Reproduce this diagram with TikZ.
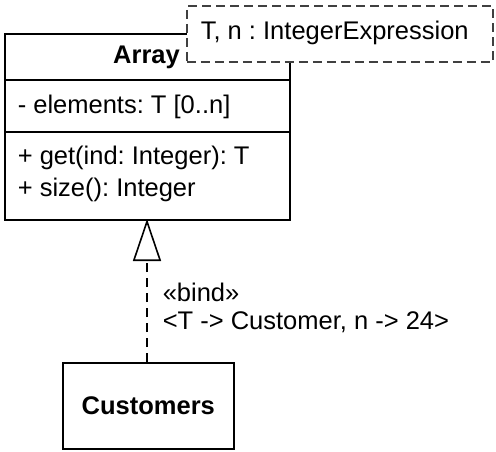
\documentclass[tikz,border=0pt]{standalone}
\usepackage{fontspec}
\setmainfont{Liberation Sans}
\usetikzlibrary{arrows.meta}
\begin{document}
\frenchspacing
\begin{tikzpicture}[x=1pt,y=-1pt,line width=1.6pt,
  every node/.style={font=\fontsize{25.5}{30}\selectfont, inner sep=0pt},
  classbox/.style={draw, anchor=north west},
  tplbox/.style={draw=black!75, dashed, dash pattern=on 9pt off 5pt, fill=white, anchor=north west},
  txt/.style={anchor=west},
  realize/.style={dashed, dash pattern=on 9pt off 6pt, -{Triangle[open, width=28pt, length=42pt]}}]
\useasboundingbox (0,0) rectangle (496,452);
% Array class
\node[classbox, minimum width=285pt, minimum height=186pt] (arr) at (4,33) {};
\draw (4,80) -- (289,80);
\draw (4,132) -- (289,132);
\node[font=\fontsize{25.5}{30}\selectfont\bfseries] (arrname) at (146.5,57) {Array};
\node[txt] (attr) at (17,107) {- elements: T [0..n]};
\node[txt] (op1) at (17,158) {+ get(ind: Integer): T};
\node[txt] (op2) at (17,190) {+ size(): Integer};
% template parameter box
\node[tplbox, minimum width=306pt, minimum height=56pt] (tpl) at (186,5) {};
\node[txt] (tpltext) at (200,33) {T, n : IntegerExpression};
% Customers class
\node[classbox, minimum width=171pt, minimum height=86pt] (cust) at (62,362) {};
\node[font=\fontsize{25.5}{30}\selectfont\bfseries] (custname) at (cust.center) {Customers};
% binding
\coordinate (tip) at (147,219);
\coordinate (start) at (147,362);
\draw[realize] (start) -- (tip);
\node[anchor=west] (bind) at (162,292) {«bind»};
\node[anchor=west] (args) at (162,322) {<T -> Customer, n -> 24>};
\end{tikzpicture}
\end{document}
